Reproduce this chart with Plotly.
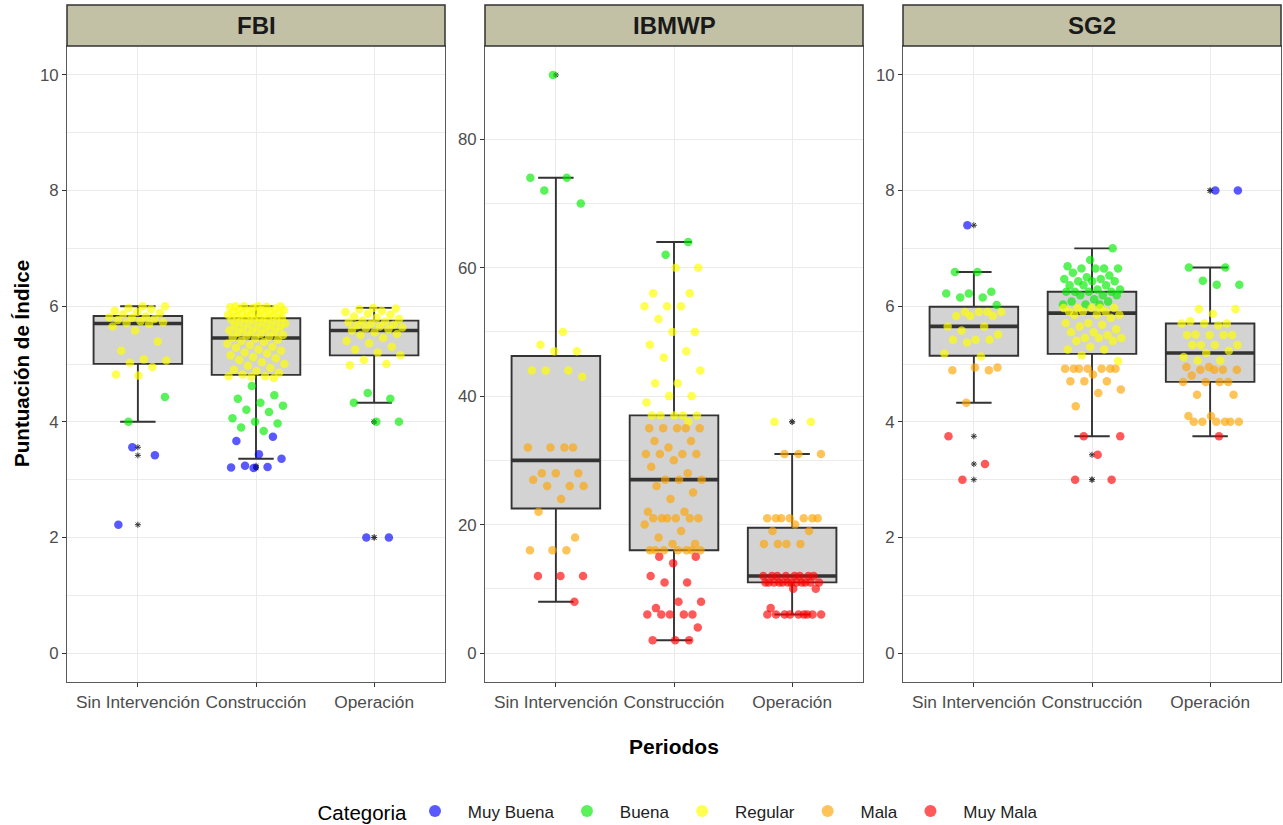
import numpy as np
import plotly.graph_objects as go

# ---------------------------------------------------------------------------
# Data: index scores per period, split by quality category
# ---------------------------------------------------------------------------
periods = ["Sin Intervención", "Construcción", "Operación"]
categories = ["Muy Buena", "Buena", "Regular", "Mala", "Muy Mala"]
category_colors = {
    "Muy Buena": "rgba(0,0,255,0.65)",
    "Buena": "rgba(0,235,0,0.65)",
    "Regular": "rgba(255,255,0,0.68)",
    "Mala": "rgba(255,165,0,0.65)",
    "Muy Mala": "rgba(255,0,0,0.65)",
}

# FBI
fbi_sin_intervencion = {
    "Muy Buena": [2.22, 3.42, 3.56],
    "Buena": [4.0, 4.43],
    "Regular": [4.8, 4.82, 4.95, 5.02, 5.06, 5.08, 5.23, 5.39, 5.58, 5.65, 5.69,
                5.71, 5.72, 5.74, 5.76, 5.78, 5.8, 5.81, 5.82, 5.86, 5.88, 5.9,
                5.92, 5.95, 5.97, 6.0, 6.0],
}
fbi_construccion = {
    "Muy Buena": [3.2, 3.21, 3.22, 3.24, 3.36, 3.44, 3.67, 3.74],
    "Buena": [3.84, 3.9, 3.97, 4.0, 4.06, 4.17, 4.21, 4.28, 4.33, 4.4, 4.46, 4.62],
    "Regular": [4.76, 4.78, 4.79, 4.79, 4.82, 4.85, 4.88, 4.9, 4.93, 4.97,
                5.0, 5.03, 5.07, 5.1, 5.12, 5.15, 5.18, 5.2, 5.23, 5.25,
                5.28, 5.3, 5.33, 5.35, 5.38, 5.4, 5.42, 5.44, 5.46, 5.47,
                5.49, 5.5, 5.52, 5.54, 5.55, 5.57, 5.58, 5.6, 5.61, 5.63,
                5.64, 5.66, 5.67, 5.69, 5.7, 5.72, 5.73, 5.75, 5.76, 5.77,
                5.78, 5.79, 5.8, 5.81, 5.82, 5.83, 5.84, 5.85, 5.86, 5.87,
                5.88, 5.89, 5.9, 5.91, 5.92, 5.93, 5.94, 5.95, 5.96, 5.97,
                5.98, 5.99, 6.0, 6.0, 6.0, 6.0],
}
fbi_operacion = {
    "Muy Buena": [2.0, 2.0],
    "Buena": [4.0, 4.0, 4.33, 4.4, 4.5],
    "Regular": [4.98, 5.0, 5.07, 5.15, 5.2, 5.25, 5.3, 5.36, 5.4, 5.45, 5.5,
                5.52, 5.55, 5.58, 5.6, 5.62, 5.63, 5.65, 5.67, 5.68, 5.7, 5.72,
                5.73, 5.75, 5.78, 5.8, 5.82, 5.85, 5.87, 5.9, 5.92, 5.95, 5.96,
                5.97],
}

# IBMWP
ibmwp_sin_intervencion = {
    "Buena": [90, 74, 74, 72, 70],
    "Regular": [50, 48, 47, 47, 44, 44, 44, 43],
    "Mala": [32, 32, 32, 32, 28, 28, 28, 27, 26, 26, 26, 24, 22, 18, 16, 16, 16],
    "Muy Mala": [12, 12, 12, 8],
}
ibmwp_construccion = {
    "Buena": [64, 62],
    "Regular": [60, 60, 56, 56, 54, 54, 54, 52, 50, 50, 48, 47, 46, 44, 42, 42,
                40, 40, 39, 37, 37, 37, 37, 37, 36],
    "Mala": [35, 35, 35, 35, 35, 33, 33, 32, 31, 31, 31, 31, 30, 29, 28, 27, 27,
             27, 26, 25, 24, 22, 22, 21, 21, 21, 21, 21, 21, 20, 19, 18, 17, 17,
             16, 16, 16, 16, 16, 16, 16],
    "Muy Mala": [15, 15, 14, 12, 11, 11, 8, 8, 7, 6, 6, 6, 6, 6, 4, 2, 2, 2],
}
ibmwp_operacion = {
    "Regular": [36, 36],
    "Mala": [31, 31, 31, 21, 21, 21, 21, 21, 21, 21, 20, 19, 19, 17, 17, 17, 17],
    "Muy Mala": [12, 12, 12, 12, 12, 12, 12, 12, 11, 11, 11, 11, 11, 11, 11, 11,
                 11, 11, 11, 11, 10, 10, 7, 6, 6, 6, 6, 6, 6, 6, 6, 6],
}

# SG2
sg2_sin_intervencion = {
    "Muy Buena": [7.4],
    "Buena": [6.59, 6.59, 6.25, 6.22, 6.22, 6.15, 6.15, 6.02],
    "Regular": [5.9, 5.9, 5.9, 5.9, 5.83, 5.83, 5.83, 5.65, 5.65, 5.58, 5.51,
                5.42, 5.42, 5.42, 5.37, 5.18, 5.13],
    "Mala": [4.94, 4.94, 4.89, 4.89, 4.33],
    "Muy Mala": [3.75, 3.27, 3.0],
}
sg2_construccion = {
    "Buena": [7.0, 6.8, 6.69, 6.65, 6.65, 6.65, 6.65, 6.58, 6.53, 6.5, 6.47,
              6.47, 6.43, 6.43, 6.43, 6.36, 6.36, 6.36, 6.29, 6.29, 6.25, 6.25,
              6.25, 6.25, 6.19, 6.19, 6.19, 6.12, 6.08, 6.08, 6.03, 6.03, 6.03],
    "Regular": [5.97, 5.97, 5.97, 5.97, 5.97, 5.91, 5.91, 5.91, 5.85, 5.85, 5.85,
                5.8, 5.71, 5.71, 5.68, 5.65, 5.6, 5.55, 5.55, 5.5, 5.45, 5.45,
                5.45, 5.4, 5.4, 5.3, 5.25, 5.25, 5.15, 5.05],
    "Mala": [4.92, 4.92, 4.92, 4.92, 4.92, 4.92, 4.92, 4.82, 4.7, 4.7, 4.7,
             4.56, 4.5, 4.27],
    "Muy Mala": [3.75, 3.75, 3.43, 3.0, 3.0],
}
sg2_operacion = {
    "Muy Buena": [8.0, 8.0],
    "Buena": [6.67, 6.67, 6.44, 6.37, 6.37],
    "Regular": [5.95, 5.95, 5.87, 5.74, 5.7, 5.7, 5.7, 5.67, 5.51, 5.5, 5.5, 5.5,
                5.5, 5.33, 5.33, 5.33, 5.33, 5.23, 5.19, 5.12, 5.06, 5.06],
    "Mala": [4.95, 4.95, 4.9, 4.9, 4.9, 4.9, 4.8, 4.69, 4.69, 4.69, 4.69, 4.47,
             4.47, 4.1, 4.1, 4.0, 4.0, 4.0, 4.0, 4.0, 4.0],
    "Muy Mala": [3.75],
}

fbi_ticks = [0, 2, 4, 6, 8, 10]
ibmwp_ticks = [0, 20, 40, 60, 80]
sg2_ticks = [0, 2, 4, 6, 8, 10]

panels = [
    ("FBI", [fbi_sin_intervencion, fbi_construccion, fbi_operacion], fbi_ticks, [-0.5, 10.5]),
    ("IBMWP", [ibmwp_sin_intervencion, ibmwp_construccion, ibmwp_operacion], ibmwp_ticks, [-4.5, 94.5]),
    ("SG2", [sg2_sin_intervencion, sg2_construccion, sg2_operacion], sg2_ticks, [-0.5, 10.5]),
]

# ---------------------------------------------------------------------------
# Layout geometry (pixels)
# ---------------------------------------------------------------------------
W, H = 1283, 825
panel_x = [(67, 445), (485, 863), (903, 1281)]
panel_top, panel_bottom = 46, 682
strip_top = 5

BOX_WIDTH = 0.75
CAP_WIDTH = 0.3
JITTER = 0.25
GRID = "#EBEBEB"
INK = "#333333"
TICK_TXT = "#4D4D4D"
FONT = "Liberation Sans, Arial, sans-serif"
NBSP = "\u00a0"
THIN = "\u2009"


def jitter_offsets(n, phase):
    """Deterministic spread of points across the period slot."""
    k = np.arange(n)
    frac = (k * 0.6180339887 + phase) % 1.0
    return (2 * frac - 1) * JITTER


def tukey_stats(values):
    v = np.sort(np.asarray(values, dtype=float))
    q1, med, q3 = np.percentile(v, [25, 50, 75])
    iqr = q3 - q1
    lo_lim, hi_lim = q1 - 1.5 * iqr, q3 + 1.5 * iqr
    lower = v[v >= lo_lim].min()
    upper = v[v <= hi_lim].max()
    outliers = v[(v < lo_lim) | (v > hi_lim)]
    return q1, med, q3, lower, upper, outliers


fig = go.Figure()
legend_shown = set()
layout_axes = {}
shapes = []
annotations = []

for p, (name, groups, ticks, yrange) in enumerate(panels):
    ax = "" if p == 0 else str(p + 1)
    xref, yref = "x" + ax, "y" + ax
    x0, x1 = panel_x[p]

    # boxes, thick medians and outlier marks
    for g, group in enumerate(groups):
        pos = g + 1
        allv = [v for c in categories for v in group.get(c, [])]
        q1, med, q3, lo, hi, outl = tukey_stats(allv)
        fig.add_trace(go.Box(
            x=[pos], q1=[q1], median=[med], q3=[q3], lowerfence=[lo], upperfence=[hi],
            width=BOX_WIDTH, whiskerwidth=CAP_WIDTH / BOX_WIDTH,
            fillcolor="#D3D3D3", line=dict(color=INK, width=1.9),
            boxpoints=False, showlegend=False, hoverinfo="skip",
            xaxis=xref, yaxis=yref,
        ))
        fig.add_trace(go.Scatter(
            x=[pos - BOX_WIDTH / 2, pos + BOX_WIDTH / 2], y=[med, med], mode="lines",
            line=dict(color=INK, width=3.6), showlegend=False, hoverinfo="skip",
            xaxis=xref, yaxis=yref,
        ))
        if len(outl):
            fig.add_trace(go.Scatter(
                x=[pos] * len(outl), y=outl, mode="markers",
                marker=dict(symbol="asterisk-open", size=5, color=INK,
                            line=dict(color=INK, width=1)),
                showlegend=False, hoverinfo="skip", xaxis=xref, yaxis=yref,
            ))

    # jittered points, one trace per category
    for ci, cat in enumerate(categories):
        xs, ys = [], []
        for g, group in enumerate(groups):
            vals = group.get(cat, [])
            if not vals:
                continue
            offs = jitter_offsets(len(vals), 0.17 * (ci + 1) + 0.29 * g + 0.11 * p)
            xs.extend(list(g + 1 + offs))
            ys.extend(vals)
        if not ys:
            continue
        fig.add_trace(go.Scatter(
            x=xs, y=ys, mode="markers",
            name=NBSP * 2 + THIN + cat + NBSP + THIN, legendgroup=cat,
            legendrank=ci + 1, showlegend=cat not in legend_shown,
            marker=dict(size=8.5, color=category_colors[cat], line=dict(width=0)),
            hoverinfo="skip", xaxis=xref, yaxis=yref,
        ))
        legend_shown.add(cat)

    minor_vals = [(a + b) / 2 for a, b in zip(ticks[:-1], ticks[1:])]
    layout_axes["xaxis" + ax] = dict(
        domain=[x0 / W, x1 / W], range=[0.4, 3.6], anchor=yref,
        tickmode="array", tickvals=[1, 2, 3], ticktext=periods,
        showgrid=True, gridcolor=GRID, gridwidth=1.3, zeroline=False,
        showline=True, mirror=True, linecolor="#5A5A5A", linewidth=1,
        ticks="outside", ticklen=4, tickwidth=1, tickcolor=INK,
        tickfont=dict(size=17.3, color=TICK_TXT, family=FONT), fixedrange=True,
    )
    layout_axes["yaxis" + ax] = dict(
        domain=[1 - panel_bottom / H, 1 - panel_top / H], range=yrange, anchor=xref,
        tickmode="array", tickvals=ticks,
        showgrid=True, gridcolor=GRID, gridwidth=1.3, zeroline=False,
        minor=dict(tickmode="array", tickvals=minor_vals, showgrid=True,
                   gridcolor=GRID, gridwidth=0.7, ticks=""),
        showline=True, mirror=True, linecolor="#5A5A5A", linewidth=1,
        ticks="outside", ticklen=4, tickwidth=1, tickcolor=INK,
        tickfont=dict(size=16.8, color=TICK_TXT, family=FONT), fixedrange=True,
    )

    # facet strip
    shapes.append(dict(
        type="rect", xref="paper", yref="paper",
        x0=x0 / W, x1=x1 / W, y0=1 - panel_top / H, y1=1 - strip_top / H,
        fillcolor="#C2C1A6", line=dict(color=INK, width=1.5), layer="above",
    ))
    annotations.append(dict(
        text=f"<b>{name}</b>", xref="paper", yref="paper",
        x=(x0 + x1) / 2 / W, y=1 - (panel_top + strip_top) / 2 / H,
        showarrow=False, xanchor="center", yanchor="middle",
        font=dict(size=24, color="#1A1A1A", family=FONT),
    ))

annotations.append(dict(
    text="<b>Puntuación de Índice</b>", xref="paper", yref="paper",
    x=22 / W, y=1 - 364 / H, textangle=-90, showarrow=False,
    xanchor="center", yanchor="middle",
    font=dict(size=20.6, color="#000000", family=FONT),
))
annotations.append(dict(
    text="<b>Periodos</b>", xref="paper", yref="paper",
    x=674 / W, y=1 - 746 / H, showarrow=False,
    xanchor="center", yanchor="middle",
    font=dict(size=21, color="#000000", family=FONT),
))

fig.update_layout(
    width=W, height=H,
    margin=dict(l=0, r=0, t=0, b=0, autoexpand=False),
    paper_bgcolor="white", plot_bgcolor="white",
    font=dict(family=FONT),
    shapes=shapes, annotations=annotations,
    showlegend=True,
    legend=dict(
        orientation="h", x=683 / W, xanchor="center", y=1 - 812 / H, yanchor="middle",
        title=dict(text="Categoria", side="left", font=dict(size=20.5, color="#000000", family=FONT)),
        font=dict(size=17, color="#222222", family=FONT),
        itemsizing="constant", bgcolor="rgba(0,0,0,0)",
    ),
    **layout_axes,
)

fig.write_html("out.html")
